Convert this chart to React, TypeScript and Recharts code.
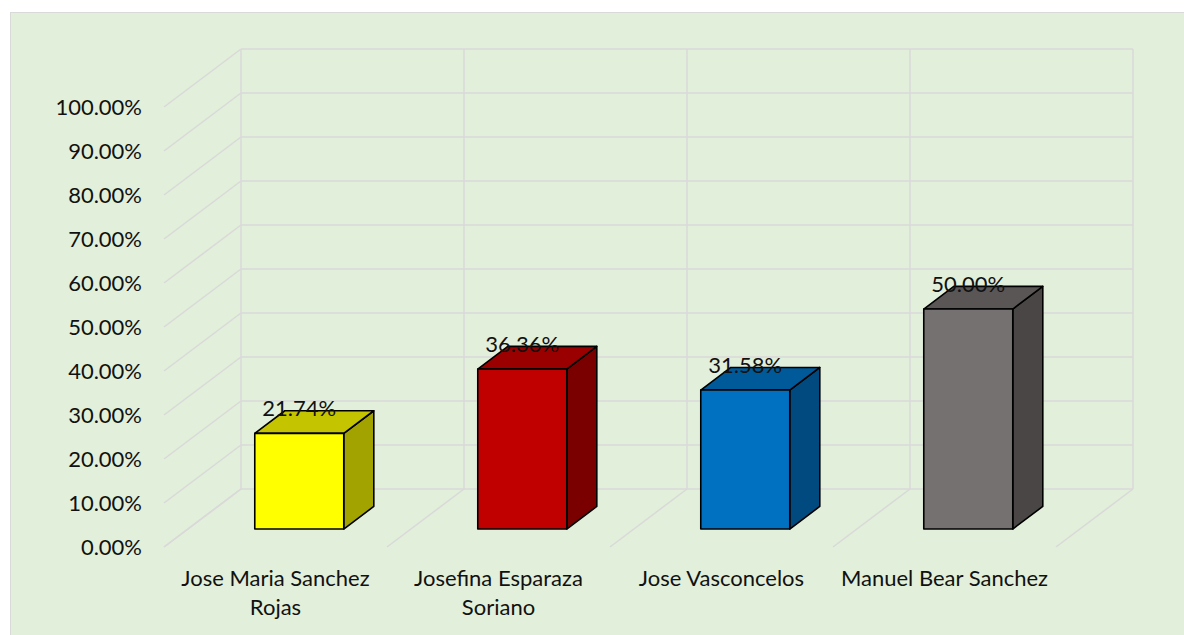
import React from 'react';
import { BarChart, Bar, XAxis, YAxis, CartesianGrid, LabelList } from 'recharts';

const names = [
  'Jose Maria Sanchez Rojas',
  'Josefina Esparaza Soriano',
  'Jose Vasconcelos',
  'Manuel Bear Sanchez',
];
const shares = [0.2174, 0.3636, 0.3158, 0.5];
const yTicks = [0, 0.1, 0.2, 0.3, 0.4, 0.5, 0.6, 0.7, 0.8, 0.9, 1];

const frontColors = ['#FFFF00', '#C00000', '#0070C0', '#767171'];
const topColors = ['#C4C400', '#9A0000', '#005A9A', '#5A5656'];
const sideColors = ['#A3A300', '#7A0000', '#004A7F', '#4A4646'];

const data = names.map((name, i) => ({ name, value: shares[i] }));

// fake 3D: how far the back wall sits from the front plane, and where the box sits in between
const DEPTH_X = 77;
const DEPTH_Y = -58;
const BAR_START = 0.31;
const BAR_DEPTH = 0.39;
const GRID = '#D9D9D9';
const TEXT = '#111111';
const FONT = 'Lato, "Noto Sans", sans-serif';
const FONT_SIZE = 22;
const WRAP_WIDTH = 223;

const pct = (v: number) => `${(v * 100).toFixed(2)}%`;

let ctx: CanvasRenderingContext2D | null = null;
const measure = (s: string) => {
  if (!ctx) ctx = document.createElement('canvas').getContext('2d');
  if (!ctx) return s.length * FONT_SIZE * 0.5;
  ctx.font = `${FONT_SIZE}px ${FONT}`;
  return ctx.measureText(s).width;
};

const wrap = (label: string) => {
  const lines: string[] = [];
  let cur = '';
  label.split(' ').forEach((w) => {
    const next = cur ? `${cur} ${w}` : w;
    if (cur && measure(next) > WRAP_WIDTH) {
      lines.push(cur);
      cur = w;
    } else {
      cur = next;
    }
  });
  if (cur) lines.push(cur);
  return lines;
};

const Box3D = (props: any) => {
  const { x, y, width, height } = props;
  const i = props.index ?? names.indexOf(props.payload?.name);
  const fx = x + DEPTH_X * BAR_START;
  const fy = y + DEPTH_Y * BAR_START;
  const dx = DEPTH_X * BAR_DEPTH;
  const dy = DEPTH_Y * BAR_DEPTH;
  const top = `${fx},${fy} ${fx + dx},${fy + dy} ${fx + width + dx},${fy + dy} ${fx + width},${fy}`;
  const side = `${fx + width},${fy} ${fx + width + dx},${fy + dy} ${fx + width + dx},${fy + height + dy} ${fx + width},${fy + height}`;
  return (
    <g stroke="#000" strokeWidth={1.6} strokeLinejoin="round">
      <polygon points={side} fill={sideColors[i]} />
      <polygon points={top} fill={topColors[i]} />
      <rect x={fx} y={fy} width={width} height={height} fill={frontColors[i]} />
    </g>
  );
};

const TopLabel = (props: any) => {
  const vb = props.viewBox && props.viewBox.width != null ? props.viewBox : props;
  const cx = vb.x + DEPTH_X * BAR_START + vb.width / 2;
  const ty = vb.y + DEPTH_Y * BAR_START - 17;
  return (
    <text x={cx} y={ty} textAnchor="middle" fontSize={FONT_SIZE} fill={TEXT}>
      {pct(props.value)}
    </text>
  );
};

const CategoryTick = (props: any) => {
  const { x, y, payload } = props;
  const lines = wrap(String(payload.value));
  return (
    <text x={x} y={y + 39} textAnchor="middle" fontSize={FONT_SIZE} fill={TEXT}>
      {lines.map((l, k) => (
        <tspan key={k} x={x} dy={k === 0 ? 0 : 29}>
          {l}
        </tspan>
      ))}
    </text>
  );
};

const backHorizontal = (p: any) => (
  <g key={`h-${p.index}`} stroke={GRID} strokeWidth={1.5}>
    <line x1={p.x1} y1={p.y1} x2={p.x1 + DEPTH_X} y2={p.y1 + DEPTH_Y} />
    <line x1={p.x1 + DEPTH_X} y1={p.y1 + DEPTH_Y} x2={p.x2 + DEPTH_X} y2={p.y2 + DEPTH_Y} />
  </g>
);

const backVertical = (p: any) => (
  <g key={`v-${p.index}`} stroke={GRID} strokeWidth={1.5}>
    <line x1={p.x1} y1={p.y2} x2={p.x1 + DEPTH_X} y2={p.y2 + DEPTH_Y} />
    <line x1={p.x1 + DEPTH_X} y1={p.y1 + DEPTH_Y} x2={p.x1 + DEPTH_X} y2={p.y2 + DEPTH_Y} />
  </g>
);

// grid verticals sit on the category boundaries, not on the centres
const bandEdges = ({ xAxis, offset }: any) => {
  const scale = xAxis?.scale;
  if (typeof scale === 'function' && typeof scale.bandwidth === 'function') {
    const starts = names.map((n) => scale(n));
    if (starts.every((s: any) => Number.isFinite(s))) {
      return [...starts, starts[starts.length - 1] + scale.bandwidth()];
    }
  }
  const step = offset.width / names.length;
  return names.map((_, i) => offset.left + i * step).concat(offset.left + offset.width);
};

export default function App() {
  return (
    <div style={{ position: 'absolute', left: 0, top: 0, width: 1184, height: 635, overflow: 'hidden' }}>
      <div
        style={{
          position: 'absolute',
          left: 10,
          top: 12,
          width: 1180,
          height: 630,
          background: '#E2EFDA',
          border: '1px solid #D9D9D9',
          fontFamily: FONT,
        }}
      >
        <BarChart
          width={1180}
          height={630}
          data={data}
          margin={{ top: 94, right: 135, bottom: 36, left: 0 }}
          barCategoryGap="30%"
        >
          <CartesianGrid
            horizontal={backHorizontal}
            vertical={backVertical}
            verticalCoordinatesGenerator={bandEdges}
          />
          <XAxis
            dataKey="name"
            axisLine={false}
            tickLine={false}
            tickSize={0}
            tickMargin={0}
            interval={0}
            height={60}
            tick={<CategoryTick />}
          />
          <YAxis
            domain={[0, 1]}
            ticks={yTicks}
            tickFormatter={pct}
            axisLine={false}
            tickLine={false}
            tickSize={0}
            tickMargin={22}
            width={153}
            tick={{ fontSize: FONT_SIZE, fill: TEXT }}
          />
          <Bar dataKey="value" shape={Box3D} isAnimationActive={false}>
            <LabelList dataKey="value" content={TopLabel} />
          </Bar>
        </BarChart>
      </div>
    </div>
  );
}
